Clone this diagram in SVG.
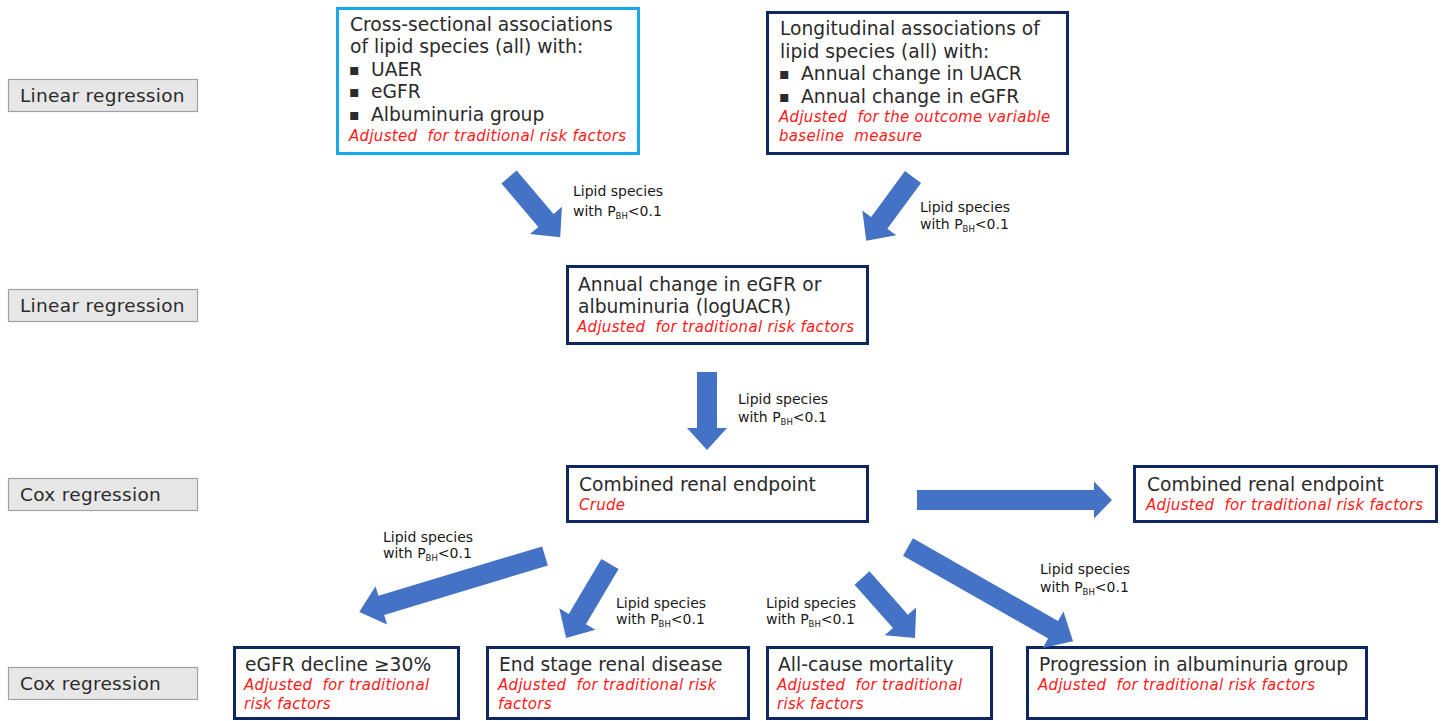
<svg xmlns="http://www.w3.org/2000/svg" width="1445" height="721" viewBox="0 0 1445 721">
<style>
.bg{fill:#ffffff}
.node{fill:#ffffff;stroke:#0f2760;stroke-width:3}
.nodeb{fill:#ffffff;stroke:#1aa9e8;stroke-width:3}
.lab{fill:#e7e7e7;stroke:#a0a0a0;stroke-width:1.2}
.t{font-family:"DejaVu Sans","Liberation Sans",sans-serif;font-size:18.7px;fill:#2b2b2b}
.bul{font-size:16px}
.tl{font-family:"DejaVu Sans","Liberation Sans",sans-serif;font-size:18.5px;letter-spacing:0.3px;fill:#2b2b2b}
.r{font-family:"DejaVu Sans","Liberation Sans",sans-serif;font-size:15px;letter-spacing:0.3px;font-style:italic;fill:#ff1a1a}
.s{font-family:"DejaVu Sans","Liberation Sans",sans-serif;font-size:14px;fill:#1a1a1a}
.sub{font-size:8.5px}
.arr{fill:#4472c4}
</style>
<rect class="bg" x="0" y="0" width="1445" height="721"/>

<g id="method-labels">
  <g id="lab1"><rect class="lab" x="8.5" y="79.5" width="189" height="32"/><text class="tl" x="20" y="102">Linear regression</text></g>
  <g id="lab2"><rect class="lab" x="8.5" y="289.5" width="189" height="32"/><text class="tl" x="20" y="312">Linear regression</text></g>
  <g id="lab3"><rect class="lab" x="8.5" y="478.5" width="189" height="32"/><text class="tl" x="20" y="501">Cox regression</text></g>
  <g id="lab4"><rect class="lab" x="8.5" y="667.5" width="189" height="32"/><text class="tl" x="20" y="690">Cox regression</text></g>
</g>

<g id="n-cross">
  <rect class="nodeb" x="337.5" y="8.5" width="301" height="145"/>
  <text class="t" x="350" y="31">Cross-sectional associations</text>
  <text class="t" x="350" y="53">of lipid species (all) with:</text>
  <text class="t" y="76"><tspan class="bul" x="349" dy="-1.5">▪</tspan><tspan x="371" dy="1.5">UAER</tspan></text>
  <text class="t" y="98"><tspan class="bul" x="349" dy="-1.5">▪</tspan><tspan x="371" dy="1.5">eGFR</tspan></text>
  <text class="t" y="121"><tspan class="bul" x="349" dy="-1.5">▪</tspan><tspan x="371" dy="1.5">Albuminuria group</tspan></text>
  <text class="r" x="349" y="141" xml:space="preserve">Adjusted  for traditional risk factors</text>
</g>

<g id="n-long">
  <rect class="node" x="767.5" y="12.5" width="300" height="141"/>
  <text class="t" x="780" y="35">Longitudinal associations of</text>
  <text class="t" x="780" y="58">lipid species (all) with:</text>
  <text class="t" y="80"><tspan class="bul" x="779" dy="-1.5">▪</tspan><tspan x="801" dy="1.5">Annual change in UACR</tspan></text>
  <text class="t" y="103"><tspan class="bul" x="779" dy="-1.5">▪</tspan><tspan x="801" dy="1.5">Annual change in eGFR</tspan></text>
  <text class="r" x="779" y="122" xml:space="preserve">Adjusted  for the outcome variable</text>
  <text class="r" x="779" y="141" xml:space="preserve">baseline  measure</text>
</g>

<g id="n-annual">
  <rect class="node" x="567.5" y="266.5" width="300" height="77"/>
  <text class="t" x="578" y="291">Annual change in eGFR or</text>
  <text class="t" x="578" y="313">albuminuria (logUACR)</text>
  <text class="r" x="577" y="332" xml:space="preserve">Adjusted  for traditional risk factors</text>
</g>

<g id="n-crude">
  <rect class="node" x="567.5" y="466.5" width="300" height="55"/>
  <text class="t" x="579" y="491">Combined renal endpoint</text>
  <text class="r" x="579" y="510">Crude</text>
</g>

<g id="n-adj">
  <rect class="node" x="1134.5" y="466.5" width="302" height="55"/>
  <text class="t" x="1147" y="491">Combined renal endpoint</text>
  <text class="r" x="1146" y="510" xml:space="preserve">Adjusted  for traditional risk factors</text>
</g>

<g id="n-egfr">
  <rect class="node" x="234.5" y="647.5" width="224" height="71"/>
  <text class="t" x="245" y="671">eGFR decline ≥30%</text>
  <text class="r" x="244" y="690" xml:space="preserve">Adjusted  for traditional</text>
  <text class="r" x="244" y="709">risk factors</text>
</g>

<g id="n-esrd">
  <rect class="node" x="487.5" y="647.5" width="261" height="71"/>
  <text class="t" x="499" y="671">End stage renal disease</text>
  <text class="r" x="498" y="690" xml:space="preserve">Adjusted  for traditional risk</text>
  <text class="r" x="498" y="709">factors</text>
</g>

<g id="n-mort">
  <rect class="node" x="767.5" y="647.5" width="224" height="71"/>
  <text class="t" x="778" y="671">All-cause mortality</text>
  <text class="r" x="777" y="690" xml:space="preserve">Adjusted  for traditional</text>
  <text class="r" x="777" y="709">risk factors</text>
</g>

<g id="n-prog">
  <rect class="node" x="1027.5" y="647.5" width="339" height="71"/>
  <text class="t" x="1039" y="671">Progression in albuminuria group</text>
  <text class="r" x="1038" y="690" xml:space="preserve">Adjusted  for traditional risk factors</text>
</g>

<g id="connectors">
  <polygon class="arr" transform="translate(509,177) rotate(49.6)" points="0,-10 57,-10 57,-21 79,0 57,21 57,10 0,10"/>
  <polygon class="arr" transform="translate(913,177) rotate(126.3)" points="0,-10 57,-10 57,-21 79,0 57,21 57,10 0,10"/>
  <polygon class="arr" transform="translate(707,372) rotate(90)" points="0,-10 56,-10 56,-20 78,0 56,20 56,10 0,10"/>
  <polygon class="arr" transform="translate(917,500) rotate(0)" points="0,-10 177,-10 177,-18.5 195,0 177,18.5 177,10 0,10"/>
  <polygon class="arr" transform="translate(545,556) rotate(163.2)" points="0,-10 171,-10 171,-20 194,0 171,20 171,10 0,10"/>
  <polygon class="arr" transform="translate(610,564) rotate(120.7)" points="0,-10 64,-10 64,-21 86,0 64,21 64,10 0,10"/>
  <polygon class="arr" transform="translate(862,578) rotate(48.5)" points="0,-10 58,-10 58,-21 80,0 58,21 58,10 0,10"/>
  <polygon class="arr" transform="translate(908,547) rotate(29.7)" points="0,-10 167,-10 167,-21 190,0 167,21 167,10 0,10"/>

  <text class="s" x="573" y="196">Lipid species</text>
  <text class="s" x="573" y="216">with P<tspan class="sub" dy="3">BH</tspan><tspan dy="-3">&lt;0.1</tspan></text>
  <text class="s" x="920" y="212">Lipid species</text>
  <text class="s" x="920" y="229">with P<tspan class="sub" dy="3">BH</tspan><tspan dy="-3">&lt;0.1</tspan></text>
  <text class="s" x="738" y="404">Lipid species</text>
  <text class="s" x="738" y="422">with P<tspan class="sub" dy="3">BH</tspan><tspan dy="-3">&lt;0.1</tspan></text>
  <text class="s" x="383" y="542">Lipid species</text>
  <text class="s" x="383" y="558">with P<tspan class="sub" dy="3">BH</tspan><tspan dy="-3">&lt;0.1</tspan></text>
  <text class="s" x="616" y="608">Lipid species</text>
  <text class="s" x="616" y="624">with P<tspan class="sub" dy="3">BH</tspan><tspan dy="-3">&lt;0.1</tspan></text>
  <text class="s" x="766" y="608">Lipid species</text>
  <text class="s" x="766" y="624">with P<tspan class="sub" dy="3">BH</tspan><tspan dy="-3">&lt;0.1</tspan></text>
  <text class="s" x="1040" y="574">Lipid species</text>
  <text class="s" x="1040" y="592">with P<tspan class="sub" dy="3">BH</tspan><tspan dy="-3">&lt;0.1</tspan></text>
</g>
</svg>
